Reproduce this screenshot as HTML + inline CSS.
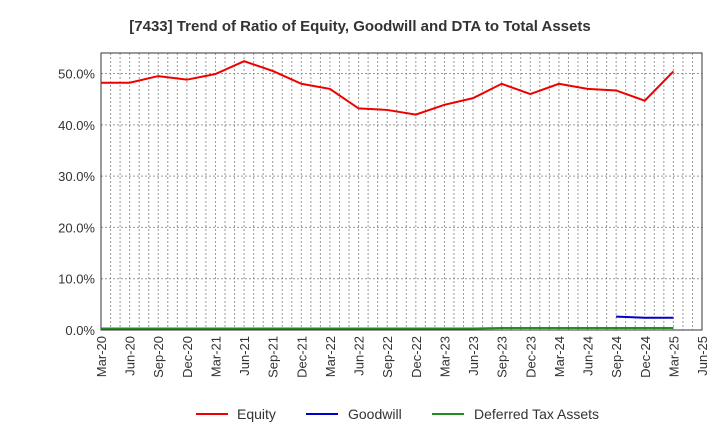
<!DOCTYPE html>
<html><head><meta charset="utf-8"><style>
body{margin:0;background:#fff;font-family:"Liberation Sans",sans-serif}
</style></head><body>
<svg id="chart" width="720" height="440" xmlns="http://www.w3.org/2000/svg" font-family="Liberation Sans, sans-serif">
<text x="360" y="31" text-anchor="middle" font-size="15" font-weight="bold" fill="#333">[7433]  Trend of Ratio of Equity, Goodwill and DTA to Total Assets</text>
<g id="grid"></g><g id="axes"></g><g id="series"></g>
<g font-size="14" fill="#333">
<line x1="196" y1="414" x2="228" y2="414" stroke="#e00" stroke-width="2"/><text x="237" y="419">Equity</text>
<line x1="306" y1="414" x2="338" y2="414" stroke="#00c" stroke-width="2"/><text x="348" y="419">Goodwill</text>
<line x1="432" y1="414" x2="464" y2="414" stroke="#228b22" stroke-width="2"/><text x="474" y="419">Deferred Tax Assets</text>
</g>
</svg>
<script>
const categories=["Mar-20","Jun-20","Sep-20","Dec-20","Mar-21","Jun-21","Sep-21","Dec-21","Mar-22","Jun-22","Sep-22","Dec-22","Mar-23","Jun-23","Sep-23","Dec-23","Mar-24","Jun-24","Sep-24","Dec-24","Mar-25","Jun-25"];
const equity=[48.2,48.2,49.5,48.8,49.9,52.4,50.5,48.0,47.0,43.2,42.9,42.0,43.9,45.2,48.0,46.0,48.0,47.0,46.7,44.7,50.4];
const goodwill=[null,null,null,null,null,null,null,null,null,null,null,null,null,null,null,null,null,null,2.6,2.4,2.4];
const dta=[0.3,0.3,0.3,0.3,0.3,0.3,0.3,0.3,0.3,0.3,0.3,0.3,0.3,0.3,0.4,0.4,0.4,0.4,0.4,0.4,0.4];
const yTicks=[0,10,20,30,40,50];
const L=101,R=702,T=53,B=330,YMAX=54;
const NS="http://www.w3.org/2000/svg";
const x=i=>L+i*(R-L)/(categories.length-1);
const y=v=>B-v/YMAX*(B-T);
function mk(tag,attrs,parent){const e=document.createElementNS(NS,tag);for(const k in attrs)e.setAttribute(k,attrs[k]);document.getElementById(parent).appendChild(e);return e;}
for(let m=1;m<(categories.length-1)*3;m++){const xx=L+m*(R-L)/((categories.length-1)*3);
const g=mk('line',{x1:xx,x2:xx,y1:T,y2:B,stroke:'#999','stroke-dasharray':'2,2','stroke-width':1},'grid');

}
yTicks.forEach(v=>{const yy=y(v);
const g=mk('line',{x1:L,x2:R,y1:yy,y2:yy,stroke:'#999','stroke-dasharray':'2,2'},'grid');


const t=mk('text',{x:L-6,y:yy+5,'text-anchor':'end','font-size':13,fill:'#333'},'axes');t.textContent=v.toFixed(1)+'%';

});
const box=mk('rect',{x:L,y:T,width:R-L,height:B-T,fill:'none',stroke:'#333'},'axes');


categories.forEach((c,i)=>{const t=mk('text',{transform:`translate(${x(i)+5},${B+6}) rotate(-90)`,'text-anchor':'end','font-size':13,fill:'#333'},'axes');t.textContent=c;

});
function line(arr,color,name){let d='';arr.forEach((v,i)=>{if(v==null)return;d+=(d?'L':'M')+x(i)+','+y(v);});
const p=mk('path',{d:d,fill:'none',stroke:color,'stroke-width':2},'series');

}
line(dta,'#228b22','dta-line');line(goodwill,'#00c','goodwill-line');line(equity,'#e00','equity-line');
</script>
</body></html>
